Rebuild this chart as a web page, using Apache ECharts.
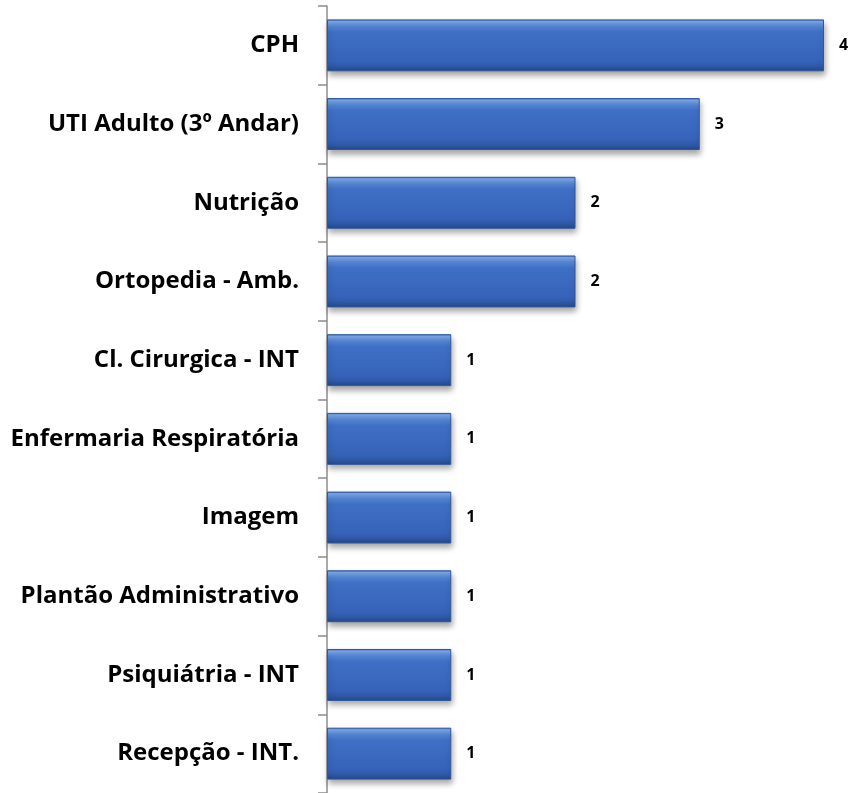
<!DOCTYPE html>
<html>
<head>
<meta charset="utf-8">
<script src="https://cdn.jsdelivr.net/npm/echarts@6/dist/echarts.min.js"></script>
<style>html,body{margin:0;padding:0;background:#fff;}#c{width:852px;height:793px;}</style>
</head>
<body>
<div id="c"></div>
<script>
const categories = ["CPH","UTI Adulto (3º Andar)","Nutrição","Ortopedia - Amb.","Cl. Cirurgica - INT","Enfermaria Respiratória","Imagem","Plantão Administrativo","Psiquiátria - INT","Recepção - INT."];
const values = [4,3,2,2,1,1,1,1,1,1];

const chart = echarts.init(document.getElementById('c'));
const barGrad = new echarts.graphic.LinearGradient(0,0,0,1,[
  {offset:0, color:'#3b66b4'},
  {offset:0.04, color:'#7ea8e8'},
  {offset:0.14, color:'#5386d6'},
  {offset:0.24, color:'#3f70c6'},
  {offset:0.8, color:'#3663b9'},
  {offset:0.9, color:'#2f59a8'},
  {offset:1, color:'#24478a'}
]);
chart.setOption({
  animation:false,
  grid:{left:327, top:6, width:497, height:790, containLabel:false},
  xAxis:{type:'value', min:0, max:4, show:false},
  yAxis:{
    type:'category', inverse:true, data:categories,
    axisLine:{show:true, lineStyle:{color:'#8c8c8c', width:1.5}},
    axisTick:{show:true, length:9, lineStyle:{color:'#8c8c8c', width:1.5}},
    axisLabel:{margin:28, color:'#000', fontFamily:'Open Sans', fontWeight:'bold', fontSize:24}
  },
  series:[{
    type:'bar', data:values, barCategoryGap:'34%',
    itemStyle:{color:barGrad, borderColor:'#2f579e', borderWidth:1,
      shadowColor:'rgba(0,0,0,0.35)', shadowBlur:6, shadowOffsetY:4, shadowOffsetX:1},
    label:{show:true, position:'right', distance:15, color:'#000', fontFamily:'Open Sans', fontWeight:'bold', fontSize:16}
  }]
});
</script>
</body>
</html>
